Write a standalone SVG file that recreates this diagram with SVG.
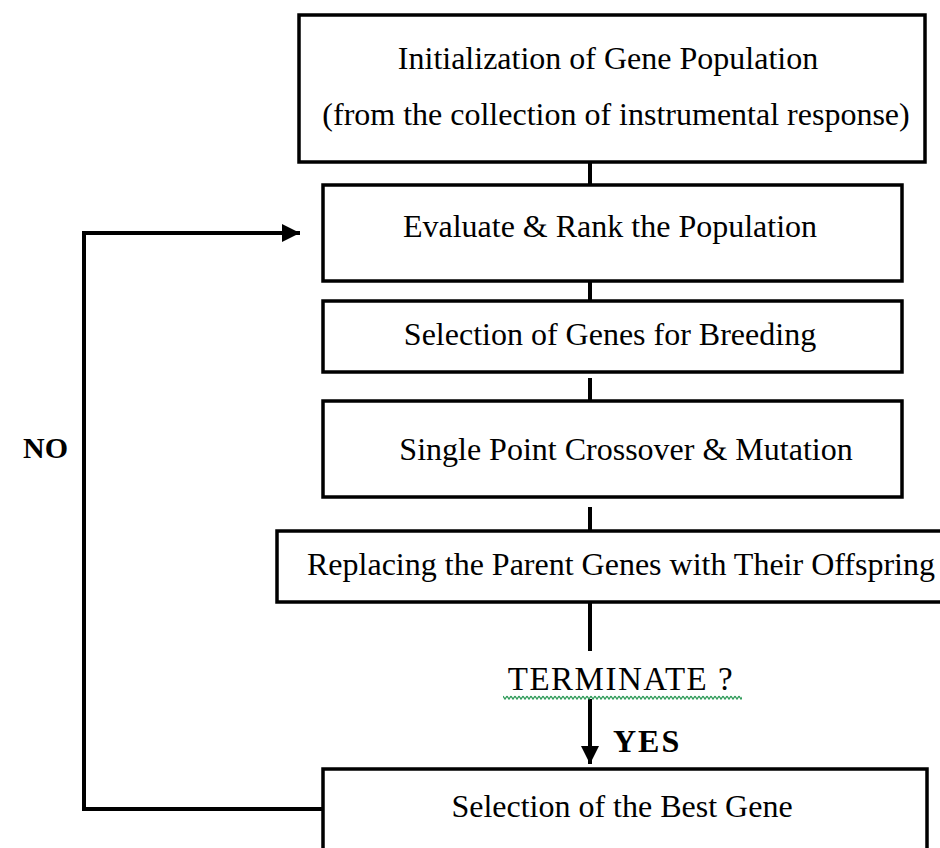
<svg xmlns="http://www.w3.org/2000/svg" width="940" height="848" viewBox="0 0 940 848">
<style>
.box{fill:#fff;stroke:#000;stroke-width:3.5}
.t{font-family:"Liberation Serif","Times New Roman",serif;font-size:32px;fill:#000;text-anchor:middle}
.b{font-family:"Liberation Serif","Times New Roman",serif;font-size:32px;font-weight:bold;fill:#000}
.c{fill:none;stroke:#000;stroke-width:4}
</style>
<defs>
<marker id="ah" viewBox="0 0 10 10" refX="10" refY="5" markerWidth="4.5" markerHeight="4.5" markerUnits="strokeWidth" orient="auto">
<path d="M0 0 L10 5 L0 10 Z" fill="#000"/>
</marker>
<pattern id="sq" x="503" y="695" width="4" height="5" patternUnits="userSpaceOnUse">
<path d="M0 1 L2 4 L4 1" fill="none" stroke="#2e9a58" stroke-width="1.3"/>
</pattern>
</defs>
<rect width="940" height="848" fill="#fff"/>
<g id="connectors">
<line class="c" x1="590" y1="162" x2="590" y2="185"/>
<line class="c" x1="590" y1="278" x2="590" y2="301"/>
<line class="c" x1="590" y1="378" x2="590" y2="401"/>
<line class="c" x1="590" y1="507" x2="590" y2="531"/>
<line class="c" x1="590" y1="602" x2="590" y2="651"/>
<line class="c" x1="590" y1="699" x2="590" y2="764" marker-end="url(#ah)"/>
<polyline class="c" points="323,809 84,809 84,233 300,233" marker-end="url(#ah)"/>
</g>
<g id="init">
<rect class="box" x="299" y="15" width="626" height="147"/>
<text class="t" x="608" y="69">Initialization of Gene Population</text>
<text class="t" x="616" y="125">(from the collection of instrumental response)</text>
</g>
<g id="evaluate">
<rect class="box" x="323" y="185" width="579" height="96"/>
<text class="t" x="610" y="237">Evaluate &amp; Rank the Population</text>
</g>
<g id="selection">
<rect class="box" x="323" y="301" width="579" height="71"/>
<text class="t" x="610" y="345">Selection of Genes for Breeding</text>
</g>
<g id="crossover">
<rect class="box" x="323" y="401" width="579" height="96"/>
<text class="t" x="626" y="460">Single Point Crossover &amp; Mutation</text>
</g>
<g id="replace">
<rect class="box" x="277" y="531" width="670" height="71"/>
<text class="t" x="621" y="575">Replacing the Parent Genes with Their Offspring</text>
</g>
<g id="terminate">
<text class="t" x="621" y="690" style="font-size:33px;letter-spacing:1.5px">TERMINATE ?</text>
<rect x="503" y="695" width="239" height="5" fill="url(#sq)"/>
</g>
<g id="best">
<rect class="box" x="323" y="769" width="604" height="90"/>
<text class="t" x="622" y="817">Selection of the Best Gene</text>
</g>
<g id="labels">
<text class="b" x="613" y="752" style="letter-spacing:2px">YES</text>
<text class="b" x="68" y="458" text-anchor="end" style="font-size:30px">NO</text>
</g>
</svg>
